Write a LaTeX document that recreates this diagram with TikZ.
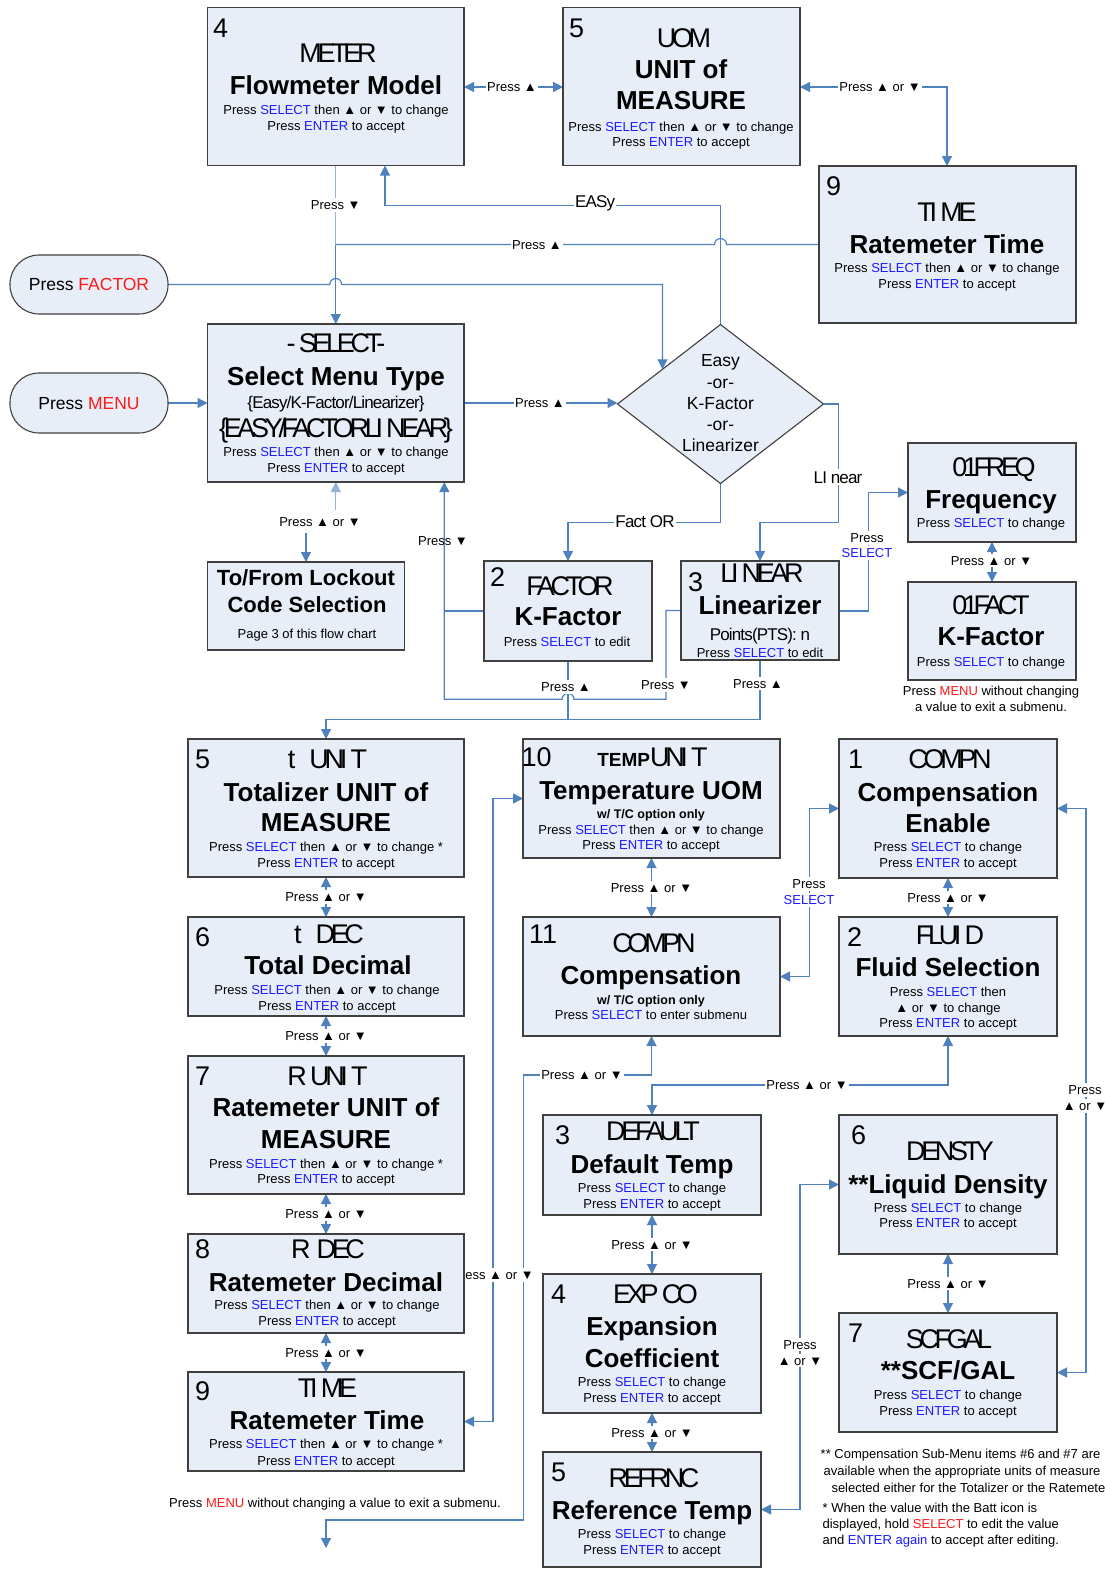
\documentclass[tikz,border=0pt]{standalone}
\usepackage{fontspec}
\setmainfont{Liberation Sans}
\newfontfamily\codefont[LetterSpace=-16]{Liberation Sans}
\newfontfamily\snugfont[LetterSpace=-5]{Liberation Sans}
\usetikzlibrary{arrows.meta,calc,backgrounds,shapes.geometric}

\definecolor{boxfill}{HTML}{E8EEF8}
\definecolor{boxline}{HTML}{404040}
\definecolor{linkblue}{HTML}{4F81BD}
\definecolor{linklight}{HTML}{95B3D7}
\definecolor{keyblue}{HTML}{1A1AFF}
\definecolor{keyred}{HTML}{FF1A1A}

\newcommand\kS{\textcolor{keyblue}{SELECT}}
\newcommand\kE{\textcolor{keyblue}{ENTER}}
\newcommand\kM{\textcolor{keyred}{MENU}}
\newcommand\selchg{Press \kS{} then ▲ or ▼ to change}
\newcommand\entacc{Press \kE{} to accept}
\newcommand\tempbold{{\normalfont\bfseries\fontsize{19}{19}\selectfont TEMP}}
\newcounter{tn}
% one line of text, centred on its capital height
\newcommand\tx[4][bd]{\stepcounter{tn}\node[#1] (tx\thetn) at (#2,#3) {#4};}
% a box given by its corners
\newcommand\boxat[6][box]{\node[#1, minimum width={#5-#3}, minimum height={#6-#4}] (#2) at (#3,#4) {};}

\begin{document}
\begin{tikzpicture}[x=1pt, y=-1pt,
  box/.style={draw=boxline, fill=boxfill, line width=1.1pt, inner sep=0pt, outer sep=0pt, anchor=north west},
  pill/.style={box, rounded corners=29pt},
  code/.style={font=\codefont\fontsize{27}{27}\selectfont, text height=19.4pt, text depth=0pt, inner sep=0pt},
  ttl/.style={font=\bfseries\fontsize{26}{26}\selectfont, text height=18.7pt, text depth=0pt, inner sep=0pt},
  ttlm/.style={font=\bfseries\fontsize{22}{22}\selectfont, text height=15.8pt, text depth=0pt, inner sep=0pt},
  bd/.style={font=\fontsize{13}{13}\selectfont, text height=9.4pt, text depth=0pt, inner sep=0pt},
  bdw/.style={bd, anchor=west},
  sb/.style={font=\bfseries\fontsize{12.5}{12.5}\selectfont, text height=9pt, text depth=0pt, inner sep=0pt},
  md/.style={font=\snugfont\fontsize{17}{17}\selectfont, text height=12.2pt, text depth=0pt, inner sep=0pt},
  pt/.style={font=\fontsize{17.5}{17.5}\selectfont, text height=12.6pt, text depth=0pt, inner sep=0pt},
  num/.style={font=\fontsize{27}{27}\selectfont, text height=19.4pt, text depth=0pt, inner sep=0pt, anchor=west},
  lab/.style={bd, fill=white, inner xsep=1.5pt, inner ysep=2pt},
  tlab/.style={md, fill=white, inner xsep=1.5pt, inner ysep=2pt},
  conn/.style={draw=linkblue, line width=1.2pt},
  soft/.style={draw=linklight, line width=1.2pt},
  arr/.style={-{Triangle[length=10pt,width=10pt]}},
  dbl/.style={{Triangle[length=10pt,width=10pt]}-{Triangle[length=10pt,width=10pt]}},
]
\useasboundingbox (0,0) rectangle (1105,1569);

% ---------- boxes ----------
\boxat{meter}{207.5}{7.5}{464}{165.5}
\boxat{uom}{563}{7.5}{800}{165.5}
\boxat{timeA}{819}{166}{1076}{323}
\boxat[pill]{pfactor}{10}{255}{168}{314}
\boxat[pill]{pmenu}{10}{373}{168}{433}
\boxat{selbox}{207.5}{324}{464}{482}
\boxat{factor}{484}{561}{652}{661}
\boxat{linear}{681}{561}{839}{660}
\boxat{lock}{207.5}{562}{404.5}{650}
\boxat{freq}{908}{443}{1076}{542}
\boxat{fact}{908}{582}{1076}{680}
\boxat{tunit}{188}{739}{464}{877}
\boxat{tdec}{188}{917}{464}{1016}
\boxat{runit}{188}{1056}{464}{1194}
\boxat{rdec}{188}{1234}{464}{1333}
\boxat{timeB}{188}{1372}{464}{1471}
\boxat{tempu}{523}{739}{780}{858}
\boxat{compn}{523}{917}{780}{1036}
\boxat{compe}{839}{739}{1057}{878}
\boxat{fluid}{839}{917}{1057}{1036}
\boxat{deflt}{543}{1115}{761}{1215}
\boxat{expco}{543}{1274}{761}{1413}
\boxat{refr}{543}{1452}{761}{1567}
\boxat{dens}{839}{1115}{1057}{1254}
\boxat{scf}{839}{1313}{1057}{1432}
\node[diamond, draw=boxline, fill=boxfill, line width=1.1pt, minimum width=206pt,
      minimum height=159pt, inner sep=0pt, outer sep=0pt] (dia) at (720.5,404) {};
\coordinate (dhit) at ($(dia.west)!0.437!(dia.north)$);
\coordinate (exitpt) at (326,1548);

% ---------- box texts ----------
\tx[num]{213}{28}{4}
\tx[code]{338}{53}{METER}
\tx[ttl]{336}{85}{Flowmeter Model}
\tx{336}{110}{\selchg}
\tx{336}{126}{\entacc}

\tx[num]{569}{28}{5}
\tx[code]{684}{37.5}{UOM}
\tx[ttl]{681}{69}{UNIT of}
\tx[ttl]{681}{100.5}{MEASURE}
\tx{681}{126.5}{\selchg}
\tx{681}{141.5}{\entacc}

\tx[num]{826}{186}{9}
\tx[code]{947}{212}{TI ME}
\tx[ttl]{947}{244}{Ratemeter Time}
\tx{947}{268}{\selchg}
\tx{947}{284}{\entacc}

\tx[pt]{89}{284.5}{Press \textcolor{keyred}{FACTOR}}
\tx[pt]{89}{403}{Press \kM}

\tx[code]{336}{343}{- SELECT-}
\tx[ttl]{336}{376}{Select Menu Type}
\tx[md]{336}{402}{\{Easy/K-Factor/Linearizer\}}
\tx[code]{336}{428}{\{EASY/FACTORLI NEAR\}}
\tx{336}{452}{\selchg}
\tx{336}{468}{\entacc}

\tx[pt]{720.5}{360.5}{Easy}
\tx[pt]{720.5}{381.8}{-or-}
\tx[pt]{720.5}{403}{K-Factor}
\tx[pt]{720.5}{424.3}{-or-}
\tx[pt]{720.5}{445.5}{Linearizer}

\tx[num]{490}{577}{2}
\tx[code]{570}{585.5}{FACTOR}
\tx[ttl]{568}{616}{K-Factor}
\tx{567}{641.5}{Press \kS{} to edit}

\tx[num]{688}{582}{3}
\tx[code]{762}{573}{LI NEAR}
\tx[ttl]{760}{605}{Linearizer}
\tx[md]{760}{634}{Points(PTS): n}
\tx{760}{652.5}{Press \kS{} to edit}

\tx[ttlm]{306}{578}{To/From Lockout}
\tx[ttlm]{307}{605}{Code Selection}
\tx{307}{634}{Page 3 of this flow chart}

\tx[code]{994}{466.5}{01FREQ}
\tx[ttl]{991}{499}{Frequency}
\tx{991}{523}{Press \kS{} to change}

\tx[code]{991}{605}{01FACT}
\tx[ttl]{991}{636.5}{K-Factor}
\tx{991}{661.5}{Press \kS{} to change}
\tx{991}{691}{Press \kM{} without changing}
\tx{991}{707}{a value to exit a submenu.}

% left column
\tx[num]{195}{759}{5}
\tx[code]{327.5}{759}{t\hspace{14pt}UNI T}
\tx[ttl]{326}{791.7}{Totalizer UNIT of}
\tx[ttl]{326}{822}{MEASURE}
\tx{326}{847}{\selchg{} *}
\tx{326}{863}{\entacc}

\tx[num]{195}{937}{6}
\tx[code]{329}{934}{t\hspace{14pt}DEC}
\tx[ttl]{328}{965}{Total Decimal}
\tx{327}{990}{\selchg}
\tx{327}{1005.5}{\entacc}

\tx[num]{195}{1076}{7}
\tx[code]{327.5}{1076}{R UNI T}
\tx[ttl]{326}{1107}{Ratemeter UNIT of}
\tx[ttl]{326}{1139}{MEASURE}
\tx{326}{1164}{\selchg{} *}
\tx{326}{1179}{\entacc}

\tx[num]{195}{1249}{8}
\tx[code]{328}{1249}{R\hspace{6pt}DEC}
\tx[ttl]{326}{1282}{Ratemeter Decimal}
\tx{327}{1305}{\selchg}
\tx{327}{1321}{\entacc}

\tx[num]{195}{1391}{9}
\tx[code]{327.5}{1388}{TI ME}
\tx[ttl]{327}{1420}{Ratemeter Time}
\tx{326}{1444}{\selchg{} *}
\tx{326}{1460.5}{\entacc}
\tx{335}{1503}{Press \kM{} without changing a value to exit a submenu.}

% middle column
\tx[num]{521.5}{757}{10}
\tx[code]{652.5}{757}{\tempbold UNI T}
\tx[ttl]{651}{790}{Temperature UOM}
\tx[sb]{651}{814}{w/ T/C option only}
\tx{651}{829.5}{\selchg}
\tx{651}{845}{\entacc}

\tx[num]{529}{934}{11}
\tx[code]{654}{943}{COMPN}
\tx[ttl]{651}{975.5}{Compensation}
\tx[sb]{651}{999.5}{w/ T/C option only}
\tx{651}{1015}{Press \kS{} to enter submenu}

\tx[num]{555}{1134.6}{3}
\tx[code]{653}{1131}{DEFAULT}
\tx[ttl]{652}{1164}{Default Temp}
\tx{652}{1187.8}{Press \kS{} to change}
\tx{652}{1203.6}{\entacc}

\tx[num]{551}{1294}{4}
\tx[code]{655.6}{1294}{EXP CO}
\tx[ttl]{652}{1326}{Expansion}
\tx[ttl]{652}{1357.7}{Coefficient}
\tx{652}{1381.7}{Press \kS{} to change}
\tx{652}{1397.6}{\entacc}

\tx[num]{551}{1472}{5}
\tx[code]{654}{1477.6}{REFRNC}
\tx[ttl]{652}{1510}{Reference Temp}
\tx{652}{1534}{Press \kS{} to change}
\tx{652}{1550}{\entacc}

% right column
\tx[num]{848}{759}{1}
\tx[code]{950}{759}{COMPN}
\tx[ttl]{948}{791.7}{Compensation}
\tx[ttl]{948}{823}{Enable}
\tx{948}{847}{Press \kS{} to change}
\tx{948}{863}{\entacc}

\tx[num]{847}{937}{2}
\tx[code]{950}{935}{FLUI D}
\tx[ttl]{948}{967}{Fluid Selection}
\tx{948}{991.7}{Press \kS{} then}
\tx{948}{1007.7}{▲ or ▼ to change}
\tx{948}{1023}{\entacc}

\tx[num]{851}{1135}{6}
\tx[code]{950}{1151}{DENSTY}
\tx[ttl]{948}{1184}{**Liquid Density}
\tx{948}{1207.3}{Press \kS{} to change}
\tx{948}{1223}{\entacc}

\tx[num]{848}{1333}{7}
\tx[code]{949}{1339}{SCFGAL}
\tx[ttl]{948}{1370}{**SCF/GAL}
\tx{948}{1395}{Press \kS{} to change}
\tx{948}{1411}{\entacc}

% footnotes
\tx[bdw]{820.5}{1454}{** Compensation Sub-Menu items \#6 and \#7 are}
\tx[bdw]{823.5}{1470.5}{available when the appropriate units of measure}
\tx[bdw]{831.3}{1487.5}{selected either for the Totalizer or the Ratemeter.}
\tx[bdw]{822.4}{1507.5}{* When the value with the Batt icon is}
\tx[bdw]{822.4}{1524}{displayed, hold \textcolor{keyred}{SELECT} to edit the value}
\tx[bdw]{822.4}{1540}{and \textcolor{keyblue}{ENTER again} to accept after editing.}

% ---------- connectors ----------
\begin{scope}[on background layer]
\fill[white] (0,0) rectangle (1105,1569);

% top row
\draw[conn, dbl] (meter.east |- 0,87) -- (uom.west |- 0,87);
\node[lab] (l1) at (512,87) {Press ▲};
\draw[conn, dbl] (uom.east |- 0,87) -- (947,87) -- (timeA.north -| 947,0);
\node[lab] (l2) at (880,87) {Press ▲ or ▼};

% EASY branch back to the meter box
\draw[conn, arr] (dia.north) -- (720.5,205.7) -- (385,205.7) -- (meter.south -| 385,0);
\node[tlab] (l3) at (595,201) {EASy};

% meter box down to the select box
\draw[soft] (meter.south) -- (335.75,245);
\draw[conn, arr] (335.75,245) -- (selbox.north);
\node[lab] (l4) at (335.75,205) {Press ▼};

% time box back to the select box, hopping over the EASY line
\draw[conn] (timeA.west) -- (726.5,244.5) arc[start angle=0, end angle=-180, radius=6] -- (335.75,244.5);
\node[lab] (l5) at (537,244.5) {Press ▲};

% FACTOR key into the decision
\draw[conn, arr] (pfactor.east) -- (329.75,284.5) arc[start angle=180, end angle=360, radius=6] -- (dhit |- pfactor.east) -- (dhit);

% MENU key into the select box
\draw[conn, arr] (pmenu.east) -- (selbox.west |- pmenu.east);

% select box to the decision
\draw[conn, arr] (selbox.east) -- (selbox.east -| dia.west);
\node[lab] (l6) at (540,403) {Press ▲};

% decision branches
\draw[conn, arr] (dia.east) -- (838.7,404) -- (838.7,522.3) -- (760,522.3) -- (linear.north);
\node[tlab] (l7) at (838,477) {LI near};
\draw[conn, arr] (dia.south) -- (720.5,522.3) -- (568,522.3) -- (factor.north);
\node[tlab] (l8) at (645,521.5) {Fact OR};

% select box and lockout
\draw[soft, arr] (335.75,510) -- (selbox.south);
\draw[conn, arr] (306,533) -- (lock.north);
\node[bd] (l9) at (320,522) {Press ▲ or ▼};

% factor / linear back to the select box
\draw[conn] (factor.west) -- (444.3,611);
\draw[conn] (factor.south) -- (568,719.3);
\draw[conn, arr] (linear.west) -- (666,610.5) -- (666,699.3) -- (574,699.3)
  arc[start angle=0, end angle=-180, radius=6] -- (444.3,699.3) -- (selbox.south -| 444.3,0);
\node[bd] (l10) at (443,541) {Press ▼};
\node[lab] (l11) at (666,685) {Press ▼};

% factor / linear down to the totalizer unit
\draw[conn, arr] (linear.south) -- (760,719.3) -- (326,719.3) -- (tunit.north);
\node[lab] (l12) at (566,687) {Press ▲};
\node[lab] (l13) at (758,683.5) {Press ▲};

% linear to the point submenu
\draw[conn, arr] (linear.east |- 0,611) -- (868.3,611) -- (868.3,492.5) -- (freq.west);
\node[lab] (l14) at (867,538) {Press};
\node[lab] (l15) at (867,553) {\kS};
\draw[conn, dbl] (freq.south) -- (fact.north);
\node[lab] (l16) at (991.5,560.5) {Press ▲ or ▼};

% left column chain
\draw[conn, dbl] (tunit.south) -- (tdec.north) node[lab, midway] (l17) {Press ▲ or ▼};
\draw[conn, dbl] (tdec.south) -- (runit.north) node[lab, midway] (l18) {Press ▲ or ▼};
\draw[conn, dbl] (runit.south) -- (rdec.north) node[lab, midway] (l19) {Press ▲ or ▼};
\draw[conn, dbl] (rdec.south) -- (timeB.north) node[lab, midway] (l20) {Press ▲ or ▼};

% compensation column back down to the exit
\draw[conn, dbl] (compn.south) -- (651.5,1075) -- (523.3,1075) -- (523.3,1520) -- (326,1520) -- (exitpt);
\node[lab] (l21) at (582,1075) {Press ▲ or ▼};

% time box to the temperature unit
\draw[conn, dbl] (timeB.east) -- (493,1421.5) -- (493,798.5) -- (tempu.west);
\node[lab] (l22) at (493,1275) {Press ▲ or ▼};

% middle and right columns
\draw[conn, dbl] (tempu.south) -- (compn.north) node[lab, midway] (l23) {Press ▲ or ▼};
\draw[conn, dbl] (compn.east) -- (809.7,976.5) -- (809.7,808.5) -- (compe.west);
\node[lab] (l24) at (809,884) {Press};
\node[lab] (l25) at (809,900) {\kS};
\draw[conn, dbl] (compe.south) -- (fluid.north) node[lab, midway] (l26) {Press ▲ or ▼};
\draw[conn, dbl] (fluid.south) -- (948,1085) -- (652,1085) -- (deflt.north);
\node[lab] (l27) at (807,1084.5) {Press ▲ or ▼};
\draw[conn, dbl] (deflt.south) -- (expco.north) node[lab, midway] (l28) {Press ▲ or ▼};
\draw[conn, dbl] (expco.south) -- (refr.north) node[lab, midway] (l29) {Press ▲ or ▼};
\draw[conn, dbl] (refr.east) -- (800,1509.5) -- (800,1184.5) -- (dens.west);
\node[lab] (l30) at (800,1344.6) {Press};
\node[lab] (l31) at (800,1360.6) {▲ or ▼};
\draw[conn, dbl] (dens.south) -- (scf.north) node[lab, midway] (l32) {Press ▲ or ▼};
\draw[conn, dbl] (compe.east) -- (1086,808.5) -- (1086,1372.5) -- (scf.east);
\node[lab] (l33) at (1085,1090) {Press};
\node[lab] (l34) at (1085,1106) {▲ or ▼};
\end{scope}
\end{tikzpicture}
\end{document}
